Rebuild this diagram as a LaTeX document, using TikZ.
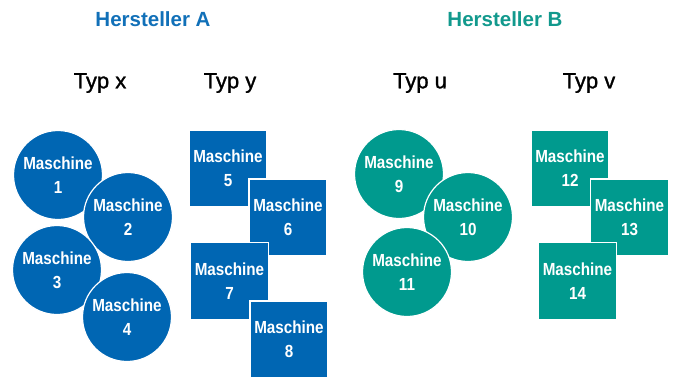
\documentclass[tikz,border=0pt]{standalone}
\usepackage{fontspec}
\setmainfont{Liberation Sans}
\newfontfamily\condfont[FakeStretch=0.87]{Liberation Sans}
\newfontfamily\typfont[FakeBold=1.3]{Liberation Sans}
\definecolor{blueA}{HTML}{0066B3}
\definecolor{tealB}{HTML}{009A8E}
\definecolor{titleA}{HTML}{1170B8}
\definecolor{titleB}{HTML}{12998D}
\tikzset{
  mach/.style={draw=white, line width=1.2pt, text=white, align=center,
    font=\condfont\bfseries\fontsize{17.5}{24}\selectfont, inner sep=0pt},
  mcircle/.style={mach, circle, minimum size=89pt},
  msquare/.style={mach, rectangle, minimum width=78pt, minimum height=77pt},
  hersteller/.style={font=\bfseries\fontsize{20.5}{24}\selectfont},
  typlabel/.style={font=\typfont\fontsize{22}{26}\selectfont, text=black}
}
\begin{document}
\begin{tikzpicture}[x=1pt, y=-1pt]
\useasboundingbox (0,0) rectangle (673,376);
% titles
\node[hersteller, text=titleA] (hA) at (153,19) {Hersteller A};
\node[hersteller, text=titleB] (hB) at (505,19) {Hersteller B};
\node[typlabel] (tx) at (100,83) {Typ x};
\node[typlabel] (ty) at (230,83) {Typ y};
\node[typlabel] (tu) at (420,83) {Typ u};
\node[typlabel] (tv) at (589,83) {Typ v};
% Hersteller A, Typ x
\node[mcircle, fill=blueA] (m1) at (58,175) {Maschine\\1};
\node[mcircle, fill=blueA] (m2) at (128,217) {Maschine\\2};
\node[mcircle, fill=blueA] (m3) at (57,270) {Maschine\\3};
\node[mcircle, fill=blueA] (m4) at (127,317) {Maschine\\4};
% Hersteller A, Typ y
\node[msquare, fill=blueA] (m5) at (228,168.5) {Maschine\\5};
\node[msquare, fill=blueA] (m6) at (288,217.5) {Maschine\\6};
\node[msquare, fill=blueA] (m7) at (229.5,281) {Maschine\\7};
\node[msquare, fill=blueA] (m8) at (289,339.5) {Maschine\\8};
% Hersteller B, Typ u
\node[mcircle, fill=tealB] (m9) at (399,174) {Maschine\\9};
\node[mcircle, fill=tealB] (m10) at (468,217) {Maschine\\10};
\node[mcircle, fill=tealB] (m11) at (407,272) {Maschine\\11};
% Hersteller B, Typ v
\node[msquare, fill=tealB] (m12) at (570,168.5) {Maschine\\12};
\node[msquare, fill=tealB] (m13) at (629.5,217.5) {Maschine\\13};
\node[msquare, fill=tealB] (m14) at (577.5,281) {Maschine\\14};
\end{tikzpicture}
\end{document}
